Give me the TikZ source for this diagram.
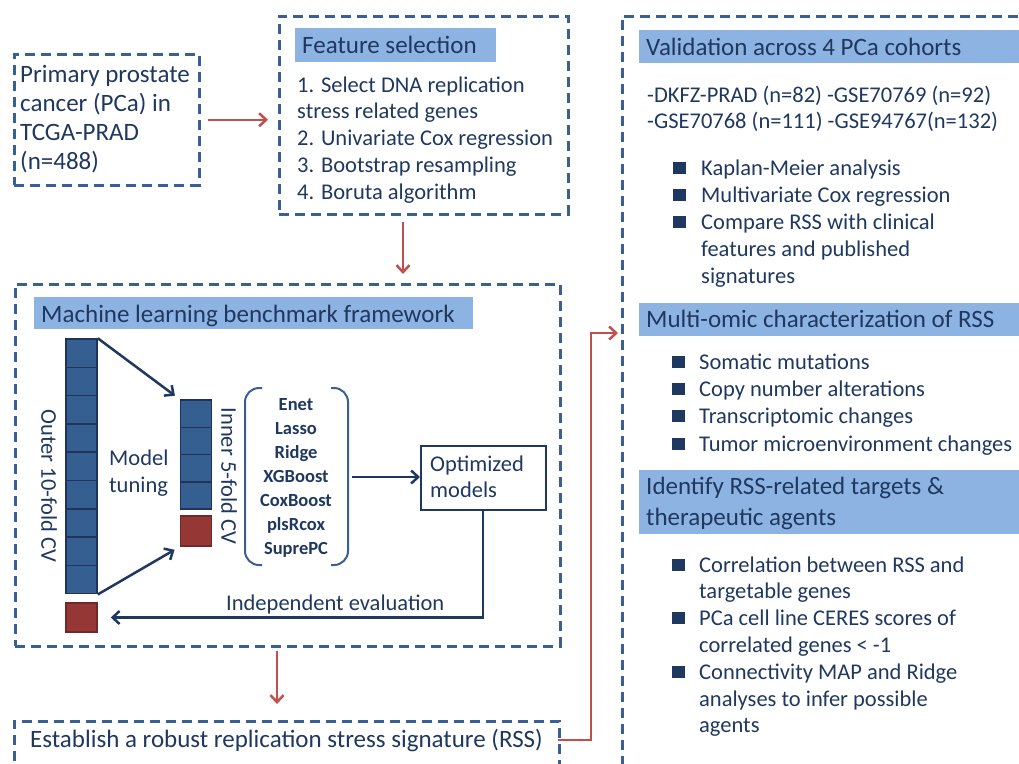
\documentclass[tikz,border=0pt]{standalone}
\usepackage{fontspec}
\setmainfont{Carlito}
\usetikzlibrary{arrows.meta}
\definecolor{boxblue}{RGB}{58,95,148}
\definecolor{inkblue}{RGB}{31,56,96}
\definecolor{headblue}{RGB}{141,179,226}
\definecolor{cellblue}{RGB}{54,95,145}
\definecolor{celledge}{RGB}{30,52,90}
\definecolor{flowred}{RGB}{192,80,77}
\definecolor{foldred}{RGB}{149,55,53}
\begin{document}
\begin{tikzpicture}
    [
    x=1pt,y=-1pt,
    every node/.style={text=inkblue,inner sep=0pt},
    dashbox/.style={draw=boxblue,line width=2.5pt,dash pattern=on 10pt off 6pt,anchor=north west},
    head/.style={fill=headblue,anchor=north west},
    txt/.style={anchor=base west,font=\fontsize{22.5}{27}\selectfont},
    bigtxt/.style={anchor=base west,font=\fontsize{25}{30}\selectfont},
    method/.style={align=center,font=\fontsize{18.5}{24}\selectfont\bfseries},
    flow/.style={draw=flowred,line width=2.5pt,-{Straight Barb[length=7pt,width=13pt]}},
    link/.style={draw=inkblue,line width=2.5pt,-{Straight Barb[length=7pt,width=13pt]}},
    cell/.style={draw=celledge,fill=cellblue,line width=1.5pt,minimum width=31pt,minimum height=28.3pt},
    fold/.style={draw=foldred!75!black,fill=foldred,line width=1.5pt,minimum width=31pt,minimum height=29pt},
    bullet/.style={fill=inkblue,minimum size=12.5pt}
    ]
    \useasboundingbox (0,0) rectangle (1019,763);
    \clip (0,0) rectangle (1019,763);
    % input cohort
    \node (pca) [dashbox,minimum width=185pt,minimum height=131pt] at (13,53) {};
    \foreach \t [count=\i] in {{Primary prostate},{cancer (PCa) in},{TCGA-PRAD},{(n=488)}}
      \node (pca-\i) [bigtxt] at (20,{82+29.3*(\i-1)}) {\t};
    % feature selection
    \node (feature) [dashbox,minimum width=289pt,minimum height=198pt] at (278,15) {};
    \node (feathead) [head,minimum width=201pt,minimum height=34pt] at (295,28) {};
    \node (feattitle) [bigtxt] at (302,53) {Feature selection};
    \foreach \t [count=\i] in {{1. Select DNA replication},{stress related genes},{2. Univariate Cox regression},{3. Bootstrap resampling},{4. Boruta algorithm}}
      \node (feat-\i) [txt] at (297,{92+26.8*(\i-1)}) {\t};
    % machine learning framework
    \node (ml) [dashbox,minimum width=545pt,minimum height=362pt] at (14,283) {};
    \node (mlhead) [head,minimum width=439pt,minimum height=32pt] at (34,297) {};
    \node (mltitle) [bigtxt] at (41,322) {Machine learning benchmark framework};
    \foreach \i in {1,...,9}
      \node (outer-\i) [cell] at (81.5,{339+28.3*(\i-0.5)}) {};
    \node (outerfold) [fold] at (81.5,617.5) {};
    \foreach \i in {1,...,4}
      \node (inner-\i) [cell,minimum height=27.3pt] at (196,{400+27.3*(\i-0.5)}) {};
    \node (innerfold) [fold,minimum height=30pt] at (196,531) {};
    \node (outerlbl) [rotate=-90,font=\fontsize{22.5}{27}\selectfont] at (49,486) {Outer 10-fold CV};
    \node (innerlbl) [rotate=-90,font=\fontsize{22.5}{27}\selectfont] at (229,476) {Inner 5-fold CV};
    \node (tuning-1) [txt] at (109,465) {Model};
    \node (tuning-2) [txt] at (109,492) {tuning};
    \draw [link,shorten >=6pt] (outer-1.north east) -- (inner-1.north west);
    \draw [link,shorten >=6pt] (outer-9.south east) -- (innerfold.south west);
    \node (methods) [method] at (296,478) {Enet\\Lasso\\Ridge\\XGBoost\\CoxBoost\\plsRcox\\SuprePC};
    \draw [draw=boxblue,line width=2pt,rounded corners=14pt] (262,388) -- (245,388) -- (245,565) -- (262,565);
    \draw [draw=boxblue,line width=2pt,rounded corners=14pt] (331,388) -- (348,388) -- (348,565) -- (331,565);
    \node (optim) [draw=inkblue,line width=1.5pt,anchor=north west,minimum width=125pt,minimum height=64pt] at (420,445) {};
    \node (optim-1) [txt] at (430,471) {Optimized};
    \node (optim-2) [txt] at (430,497) {models};
    \coordinate (bracketout) at (352,477);
    \draw [link] (bracketout) -- (bracketout -| optim.west);
    \draw [link,shorten >=13pt] (optim.south -| 483,0) |- (outerfold.east);
    \node (evaluation) [txt] at (226,610) {Independent evaluation};
    % signature
    \node (rss) [dashbox,minimum width=545pt,minimum height=80pt] at (13,720) {};
    \node (rsstext) [bigtxt] at (30,747) {Establish a robust replication stress signature (RSS)};
    % flow arrows
    \draw [flow,shorten <=7pt,shorten >=10pt] (pca.east) -- (pca.east -| feature.west);
    \draw [flow,shorten <=6pt,shorten >=9pt] ([xshift=125pt]feature.south west) -- ([xshift=125pt]feature.south west |- ml.north);
    \draw [flow,shorten <=3pt,shorten >=16pt] (ml.south -| 277,0) -- (rss.north -| 277,0);
    % downstream analyses
    \node (panel) [dashbox,minimum width=430pt,minimum height=800pt] at (621,15) {};
    \coordinate (rssout) at (558,740);
    \coordinate (turn) at (591,333);
    \draw [flow,shorten >=3pt] (rssout) -| (turn) -- (turn -| panel.west);
    \node (valhead) [head,minimum width=400pt,minimum height=33pt] at (639,30) {};
    \node (valtitle) [bigtxt] at (646,55) {Validation across 4 PCa cohorts};
    \node (cohort-1) [txt] at (647,102) {-DKFZ-PRAD (n=82) -GSE70769 (n=92)};
    \node (cohort-2) [txt] at (647,128) {-GSE70768 (n=111) -GSE94767(n=132)};
    \foreach \y/\t [count=\i] in {175/{Kaplan-Meier analysis},202/{Multivariate Cox regression},229/{Compare RSS with clinical},256/{features and published},283/{signatures}}
      \node (val-\i) [txt] at (701,\y) {\t};
    \foreach \y [count=\i] in {175,202,229}
      \node (valbul-\i) [bullet] at (679.5,{\y-7}) {};
    \node (omichead) [head,minimum width=400pt,minimum height=33pt] at (639,303) {};
    \node (omictitle) [bigtxt] at (646,327) {Multi-omic characterization of RSS};
    \foreach \y/\t [count=\i] in {369/{Somatic mutations},396/{Copy number alterations},423/{Transcriptomic changes},451/{Tumor microenvironment changes}}
      {\node (omic-\i) [txt] at (699,\y) {\t};
       \node (omicbul-\i) [bullet] at (678.5,{\y-7}) {};}
    \node (targethead) [head,minimum width=400pt,minimum height=64pt] at (639,470) {};
    \node (targettitle-1) [bigtxt] at (646,494) {Identify RSS-related targets \&};
    \node (targettitle-2) [bigtxt] at (646,525) {therapeutic agents};
    \foreach \y/\t [count=\i] in {572/{Correlation between RSS and},598/{targetable genes},625/{PCa cell line CERES scores of},652/{correlated genes < -1},679/{Connectivity MAP and Ridge},706/{analyses to infer possible},732/{agents}}
      \node (target-\i) [txt] at (699,\y) {\t};
    \foreach \y [count=\i] in {572,625,679}
      \node (targetbul-\i) [bullet] at (678.5,{\y-7}) {};
\end{tikzpicture}
\end{document}
